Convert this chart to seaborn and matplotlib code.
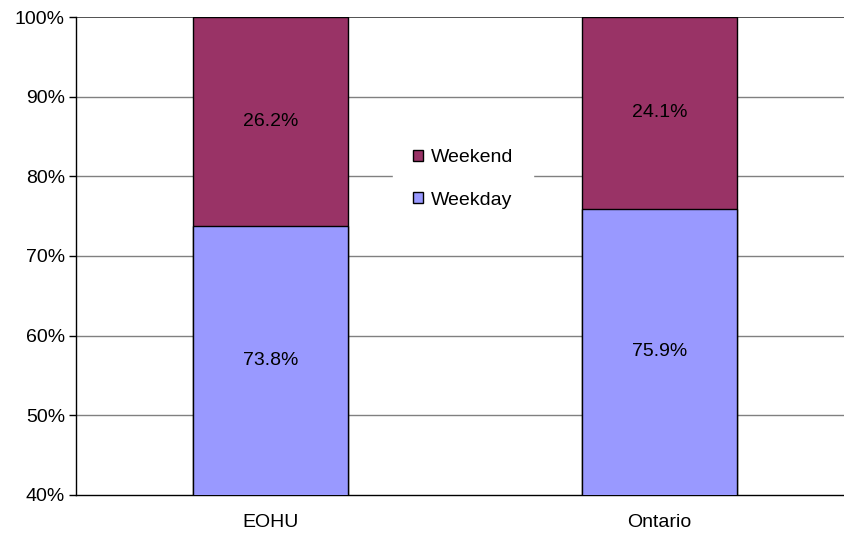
import matplotlib
matplotlib.use("Agg")
import matplotlib.pyplot as plt
from matplotlib.patches import Patch
import seaborn as sns
import pandas as pd

regions = ["EOHU", "Ontario"]
weekday = [73.8, 75.9]
weekend = [26.2, 24.1]
y_ticks = [40, 50, 60, 70, 80, 90, 100]

weekday_color = "#9999FF"
weekend_color = "#993366"

sns.set_theme(style="white")
plt.rcParams["font.family"] = ["Liberation Sans", "DejaVu Sans"]
plt.rcParams["text.color"] = "black"
plt.rcParams["legend.labelcolor"] = "black"

df = pd.DataFrame({
    "region": regions,
    "weekday": weekday,
    "weekend": weekend,
})
df["total"] = df["weekday"] + df["weekend"]

fig = plt.figure(figsize=(8.44, 5.33), dpi=100)
ax = fig.add_axes([76 / 844, 1 - 495 / 533, 778 / 844, 478 / 533])

# stacked bars: full height in weekend colour, weekday drawn over it
sns.barplot(data=df, x="region", y="total", color=weekend_color, width=0.4,
            edgecolor="black", linewidth=1.0, saturation=1, ax=ax, zorder=3)
sns.barplot(data=df, x="region", y="weekday", color=weekday_color, width=0.4,
            edgecolor="black", linewidth=1.0, saturation=1, ax=ax, zorder=3)

ax.set_ylim(40, 100)
ax.set_yticks(y_ticks)
ax.set_yticklabels([f"{t}%" for t in y_ticks], fontsize=14, color="black")
ax.tick_params(axis="y", which="both", left=True, length=5, width=1, color="black", pad=3)
ax.tick_params(axis="x", bottom=False, length=0, labelsize=14, labelcolor="black", pad=14)
ax.set_xlabel("")
ax.set_ylabel("")

for y in y_ticks[1:-1]:
    ax.axhline(y, color="#808080", linewidth=1.0, zorder=1)
ax.axhline(100, color="#333333", linewidth=1.2, zorder=1)

for side in ["top", "right"]:
    ax.spines[side].set_visible(False)
for side in ["left", "bottom"]:
    ax.spines[side].set_color("black")
    ax.spines[side].set_linewidth(1.0)

lo = ax.get_ylim()[0]
for i, (wd, we) in enumerate(zip(weekday, weekend)):
    ax.text(i, (lo + wd) / 2, f"{wd}%", ha="center", va="center", fontsize=14,
            color="black", zorder=5)
    ax.text(i, wd + we / 2, f"{we}%", ha="center", va="center", fontsize=14,
            color="black", zorder=5)

handles = [
    Patch(facecolor=weekend_color, edgecolor="black", linewidth=1.0, label="Weekend"),
    Patch(facecolor=weekday_color, edgecolor="black", linewidth=1.0, label="Weekday"),
]
leg = fig.legend(handles=handles, loc="center", bbox_to_anchor=(463 / 844, 1 - 179 / 533),
                 frameon=True, fontsize=14, handlelength=0.52, handleheight=0.52,
                 handletextpad=0.4, labelspacing=1.3, borderpad=1.0,
                 labelcolor="black")
leg.get_frame().set_edgecolor("white")
leg.get_frame().set_facecolor("white")
leg.get_frame().set_alpha(1)
leg.get_frame().set_boxstyle("square", pad=0)

fig.savefig("out.png", dpi=100, facecolor="white")
